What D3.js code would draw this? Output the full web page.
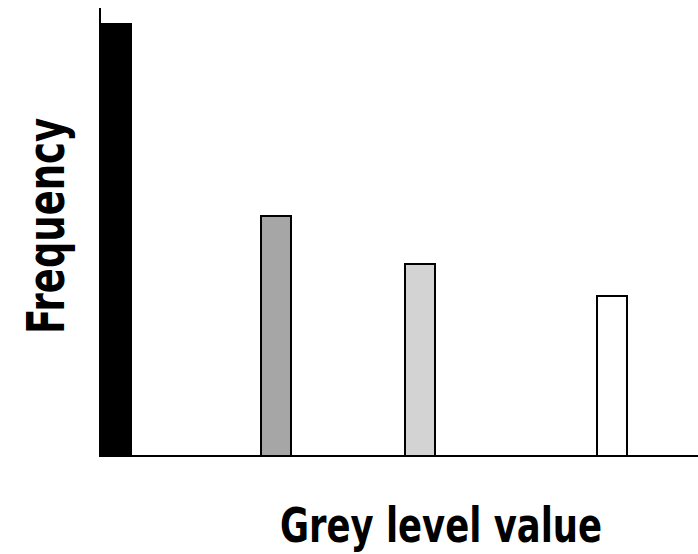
<!DOCTYPE html>
<html><head><meta charset="utf-8">
<script src="https://cdn.jsdelivr.net/npm/d3@7"></script>
<style>body{margin:0;background:#fff}svg{display:block}</style>
</head><body>
<svg id="c" width="698" height="554"></svg>
<script>
const greyLevels = [0, 80, 152, 248];
const frequencies = [433, 241, 193, 161];
const fills = ["#000000", "#a6a6a6", "#d3d3d3", "#ffffff"];
const xTitle = "Grey level value";
const yTitle = "Frequency";

const svg = d3.select("#c");
const x = d3.scaleLinear().domain([0, 299]).range([100, 698]);
const y = d3.scaleLinear().domain([0, 448]).range([456, 8]);
const barW = 32;

svg.selectAll("rect.bar").data(greyLevels).enter().append("rect")
  .attr("class","bar")
  .attr("x", d => x(d) + 1)
  .attr("y", (d,i) => y(frequencies[i]) + 1)
  .attr("width", barW - 2)
  .attr("height", (d,i) => y(0) - y(frequencies[i]) - 1)
  .attr("fill", (d,i) => fills[i])
  .attr("stroke", "#000").attr("stroke-width", 2);

svg.append("line").attr("x1", 100).attr("x2", 698).attr("y1", 456).attr("y2", 456)
  .attr("stroke","#000").attr("stroke-width", 2);
svg.append("line").attr("x1", 100).attr("x2", 100).attr("y1", 8).attr("y2", 457)
  .attr("stroke","#000").attr("stroke-width", 2);

svg.append("text").attr("x", 441).attr("y", 542).attr("text-anchor","middle")
  .attr("font-family","'Liberation Sans Narrow', 'DejaVu Sans Condensed', sans-serif")
  .attr("font-weight","bold").attr("font-size", 48)
  .attr("textLength", 322).attr("lengthAdjust","spacingAndGlyphs")
  .text(xTitle);
svg.append("text").attr("transform","translate(64,226) rotate(-90)").attr("text-anchor","middle")
  .attr("font-family","'Liberation Sans Narrow', 'DejaVu Sans Condensed', sans-serif")
  .attr("font-weight","bold").attr("font-size", 52)
  .attr("textLength", 216).attr("lengthAdjust","spacingAndGlyphs")
  .text(yTitle);
</script>
</body></html>
